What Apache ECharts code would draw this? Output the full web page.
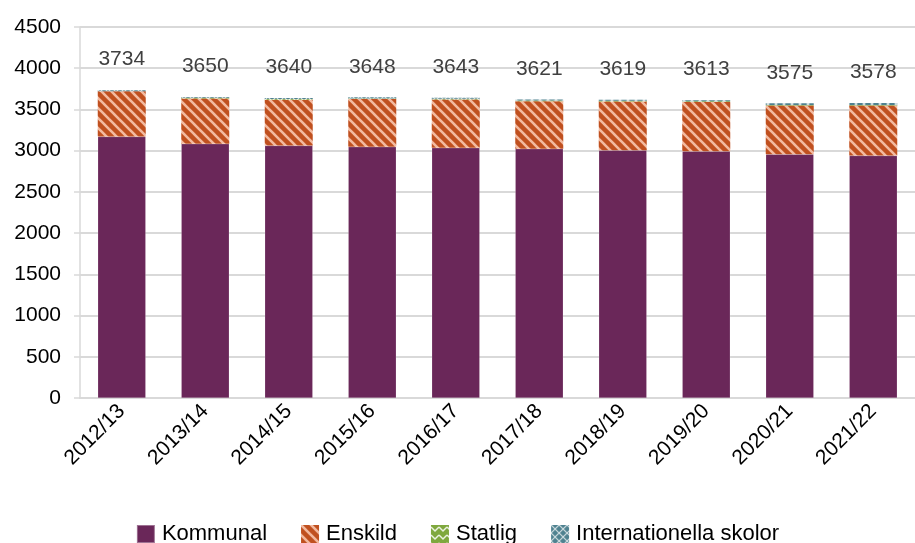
<!DOCTYPE html>
<html>
<head>
<meta charset="utf-8">
<script src="https://cdn.jsdelivr.net/npm/echarts@6/dist/echarts.min.js"></script>
<style>html,body{margin:0;padding:0;background:#fff}#c{width:915px;height:543px}</style>
</head>
<body>
<div id="c"></div>
<script>
const categories = ['2012/13','2013/14','2014/15','2015/16','2016/17','2017/18','2018/19','2019/20','2020/21','2021/22'];
const kommunal = [3171, 3083, 3062, 3046, 3034, 3022, 3006, 2994, 2957, 2940];
const enskild = [551, 551, 556, 580, 587, 577, 591, 595, 592, 608];
const statlig = [0, 8, 8, 8, 8, 8, 8, 10, 6, 5];
const internationella = [12, 8, 14, 14, 14, 14, 14, 14, 20, 25];
const totals = [3734, 3650, 3640, 3648, 3643, 3621, 3619, 3613, 3575, 3578];
const yTicks = [0, 500, 1000, 1500, 2000, 2500, 3000, 3500, 4000, 4500];

function makePattern(size, bg, draw) {
  const c = document.createElement('canvas');
  c.width = size; c.height = size;
  const g = c.getContext('2d');
  g.fillStyle = bg; g.fillRect(0, 0, size, size);
  draw(g, size);
  return { image: c, repeat: 'repeat' };
}
const enskildPat = makePattern(10, '#C0501F', (g, s) => {
  g.strokeStyle = 'rgba(255,212,192,0.8)'; g.lineWidth = 2.6;
  g.beginPath(); g.moveTo(-3, -3); g.lineTo(s + 3, s + 3); g.stroke();
  g.beginPath(); g.moveTo(-3, s - 3); g.lineTo(3, s + 3); g.stroke();
  g.beginPath(); g.moveTo(s - 3, -3); g.lineTo(s + 3, 3); g.stroke();
});
const statligPat = makePattern(8, '#7FA83E', (g, s) => {
  g.strokeStyle = 'rgba(255,255,255,0.85)'; g.lineWidth = 1.5;
  g.beginPath(); g.moveTo(0, 2); g.lineTo(4, 6); g.lineTo(8, 2); g.stroke();
});
const intlPat = makePattern(8, '#4F8290', (g, s) => {
  g.strokeStyle = 'rgba(255,255,255,0.75)'; g.lineWidth = 1.2;
  g.beginPath(); g.moveTo(0, 0); g.lineTo(8, 8); g.moveTo(8, 0); g.lineTo(0, 8); g.stroke();
});

const chart = echarts.init(document.getElementById('c'), null, { renderer: 'canvas' });
const font = 'Liberation Sans, Arial, sans-serif';
const barW = 48;
chart.setOption({
  animation: false,
  backgroundColor: '#fff',
  grid: { left: 80, right: 0, top: 27, bottom: 145, containLabel: false },
  legend: {
    bottom: -7, left: 'center', itemWidth: 18, itemHeight: 18, itemGap: 34,
    textStyle: { fontFamily: font, fontSize: 22, color: '#000', padding: [0, 0, 0, 2] },
    icon: 'rect',
    data: ['Kommunal', 'Enskild', 'Statlig', 'Internationella skolor']
  },
  xAxis: {
    type: 'category', data: categories,
    axisLine: { lineStyle: { color: '#d9d9d9', width: 2 } },
    axisTick: { show: false },
    axisLabel: { rotate: 45, fontFamily: font, fontSize: 21, color: '#000', margin: 10, interval: 0 }
  },
  yAxis: {
    type: 'value', min: 0, max: 4500, interval: 500,
    axisLine: { show: true, lineStyle: { color: '#d9d9d9', width: 1.5 } },
    axisTick: { show: true, length: 6, lineStyle: { color: '#d9d9d9', width: 1.5 } },
    splitLine: { lineStyle: { color: '#d9d9d9', width: 2 } },
    axisLabel: { fontFamily: font, fontSize: 21, color: '#000', margin: 19,
      formatter: v => yTicks.includes(v) ? String(v) : '' }
  },
  series: [
    { name: 'Kommunal', type: 'bar', stack: 'a', barWidth: barW, data: kommunal,
      itemStyle: { color: '#6A2759', borderColor: 'rgba(255,255,255,0.35)', borderWidth: 0.5 } },
    { name: 'Enskild', type: 'bar', stack: 'a', barWidth: barW, data: enskild,
      itemStyle: { color: enskildPat } },
    { name: 'Statlig', type: 'bar', stack: 'a', barWidth: barW, data: statlig,
      itemStyle: { color: statligPat } },
    { name: 'Internationella skolor', type: 'bar', stack: 'a', barWidth: barW, data: internationella,
      itemStyle: { color: intlPat },
      label: { show: true, position: 'top', distance: 20, fontFamily: font, fontSize: 21, color: '#404040',
        formatter: p => String(totals[p.dataIndex]) } }
  ]
});
</script>
</body>
</html>
